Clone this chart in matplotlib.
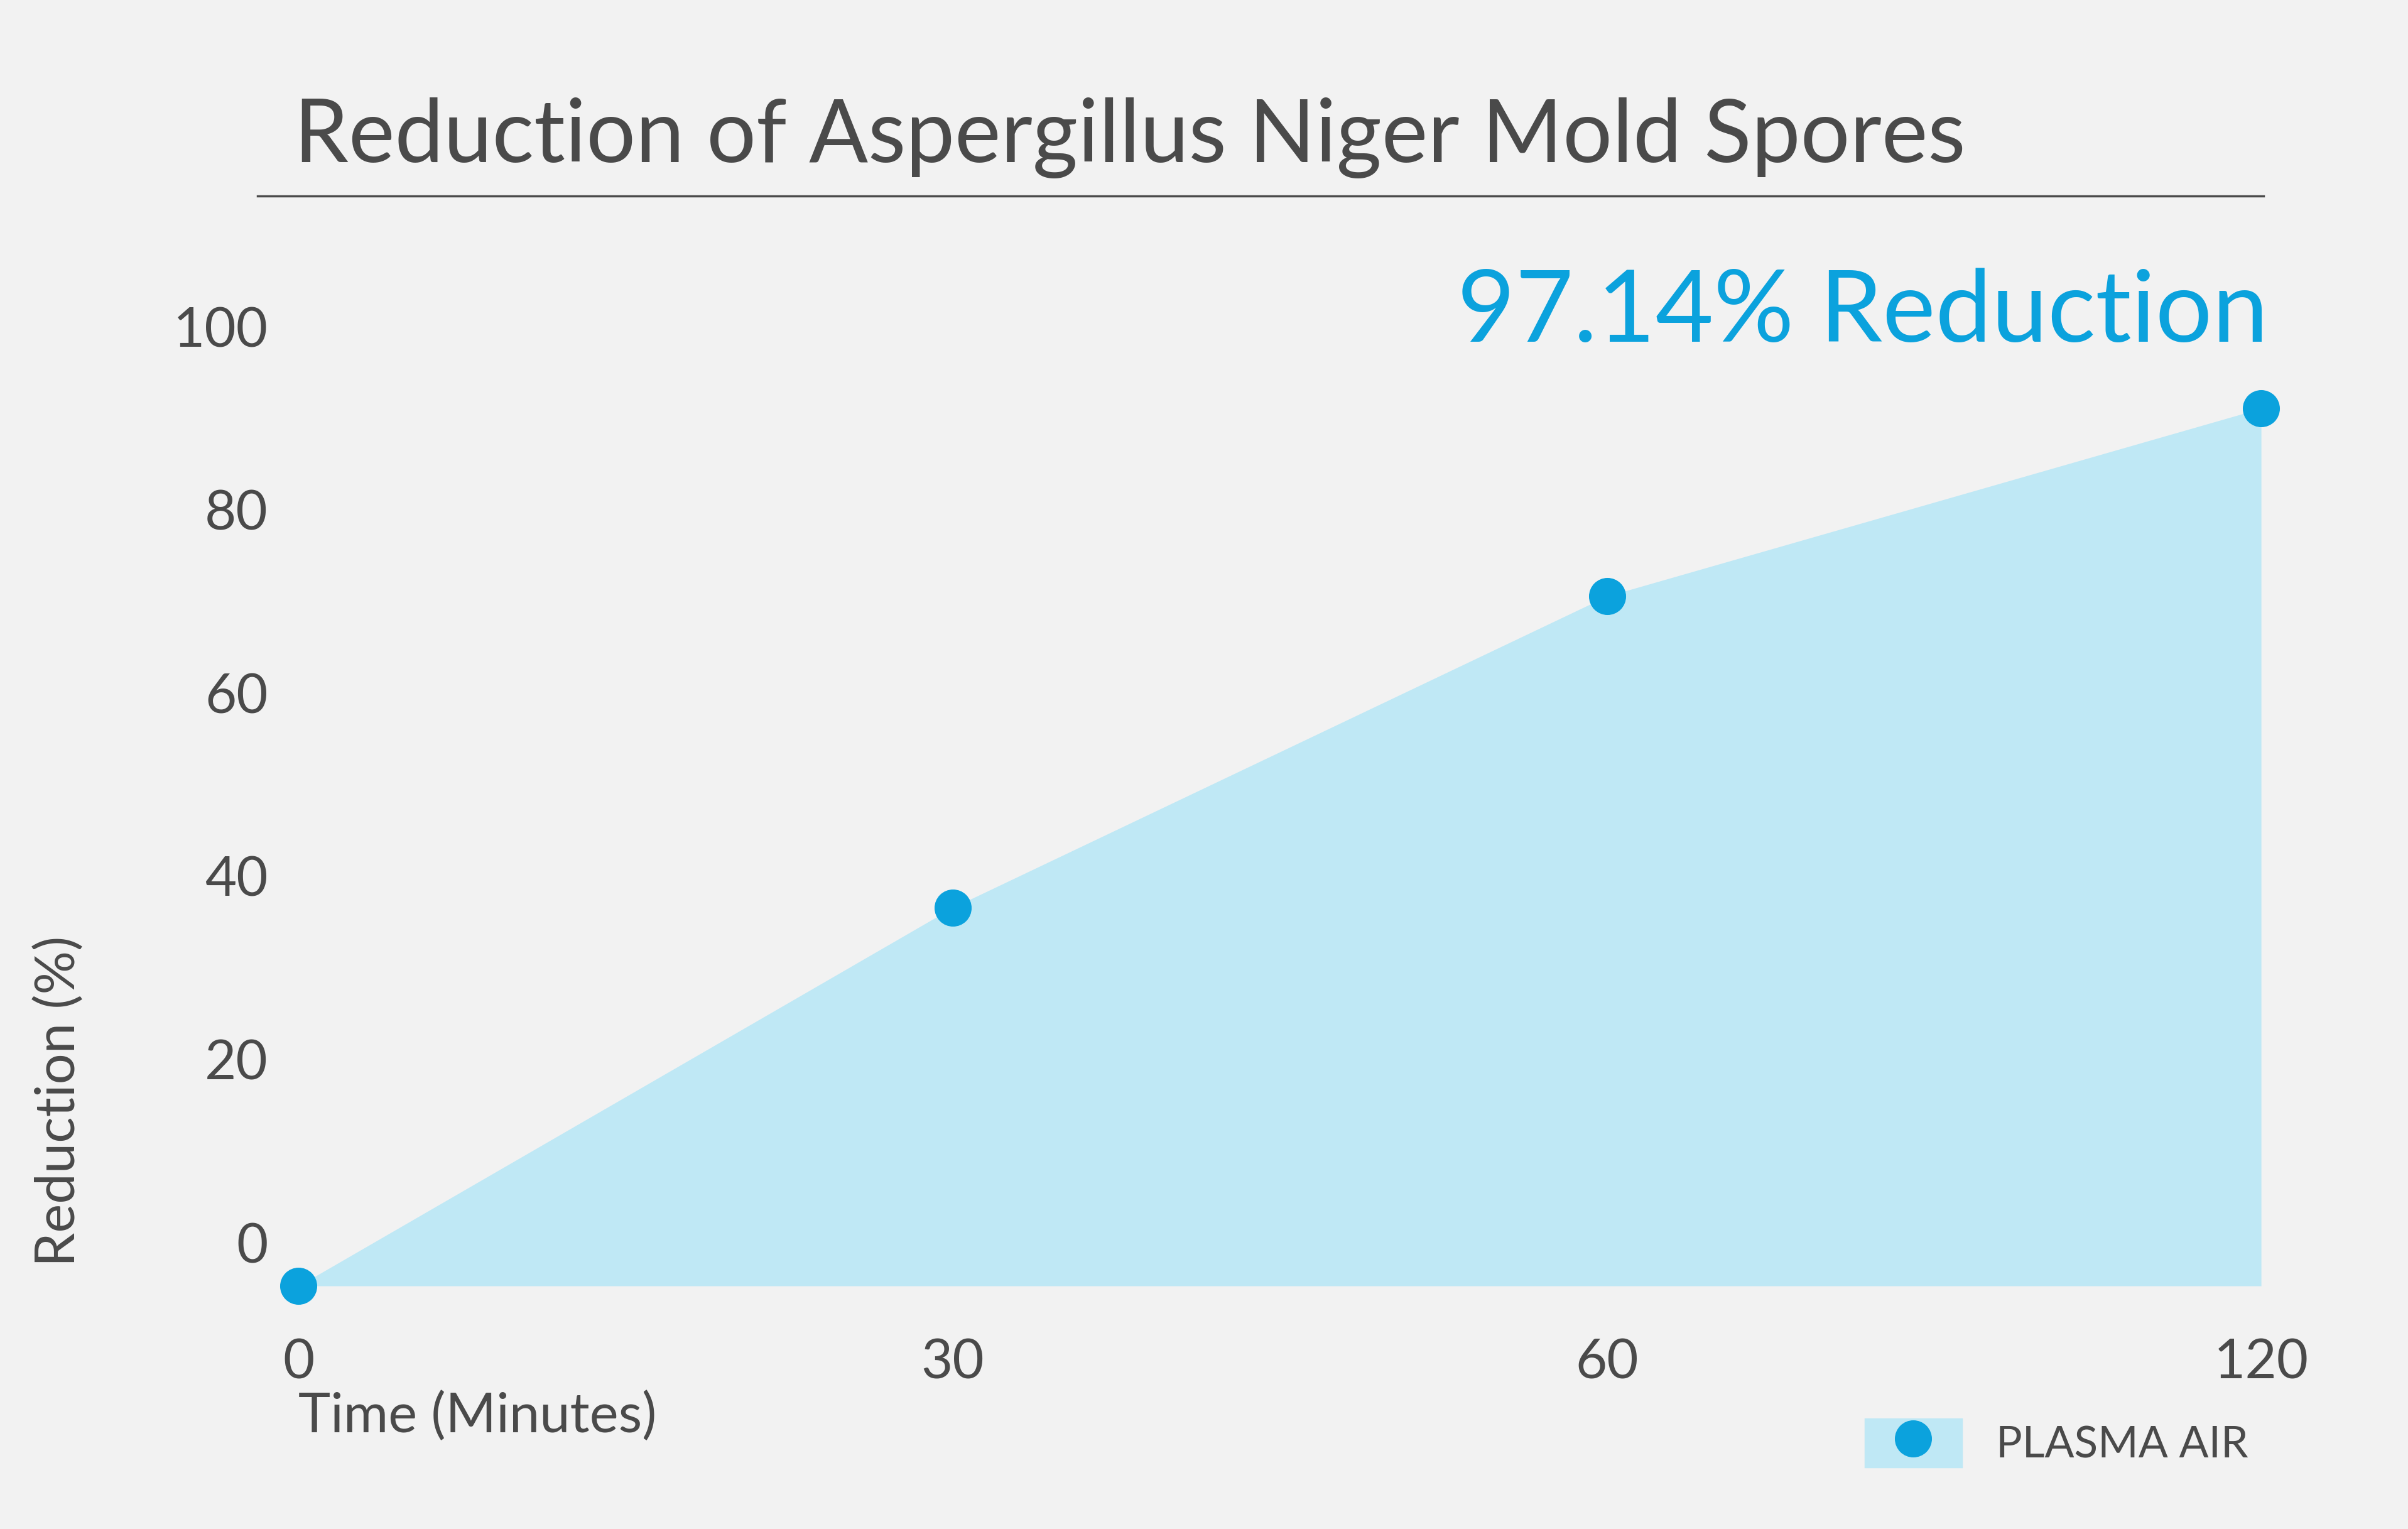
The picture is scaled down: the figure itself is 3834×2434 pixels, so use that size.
import matplotlib
matplotlib.use("Agg")
import matplotlib.pyplot as plt
from matplotlib.lines import Line2D
from matplotlib.patches import Patch

categories = ["0", "30", "60", "120"]
reduction = [-1.5, 39.8, 73.8, 94.3]
yticks = [0, 20, 40, 60, 80, 100]

bg = "#f2f2f2"; txt = "#4a4a4a"; blue = "#0ba2dd"; fill = "#bfe8f5"
plt.rcParams['font.family'] = ['Lato', 'DejaVu Sans']

fig = plt.figure(figsize=(15.336, 9.736), dpi=250, facecolor=bg)
ax = fig.add_axes([0.124, 0.159, 0.815, 0.608], facecolor=bg)
x = list(range(len(categories)))
ax.fill_between(x, reduction, -1.5, color=fill, lw=0)
ax.plot(x, reduction, 'o', color=blue, ms=16, clip_on=False, zorder=3)
ax.set_xlim(0, 3); ax.set_ylim(-1.5, 100)
for s in ax.spines.values(): s.set_visible(False)
ax.set_xticks(x, categories)
ax.set_yticks(yticks)
ax.tick_params(length=0, labelsize=25, labelcolor=txt, pad=14)
ax.tick_params(axis='x', pad=24)
for t in ax.get_yticklabels(): t.set_va('bottom')
fig.text(0.014, 0.28, "Reduction (%)", rotation=90, fontsize=25, color=txt, va='center')
fig.text(0.124, 0.063, "Time (Minutes)", fontsize=25, color=txt)
fig.text(0.122, 0.91, "Reduction of Aspergillus Niger Mold Spores", fontsize=40, color=txt, va='center')
fig.add_artist(Line2D([0.107, 0.94], [0.872, 0.872], color=txt, lw=1))
fig.text(0.942, 0.795, "97.14% Reduction", fontsize=46, color=blue, ha='right', va='center')
fig.legend(handles=[(Patch(color=fill), Line2D([], [], marker='o', ls='', color=blue, ms=16))],
           labels=["PLASMA AIR"], loc='lower right', bbox_to_anchor=(0.95, 0.015),
           frameon=False, fontsize=20, labelcolor=txt, handlelength=2.2, handleheight=1.3)
fig.savefig("out.png", dpi=250, facecolor=bg)
